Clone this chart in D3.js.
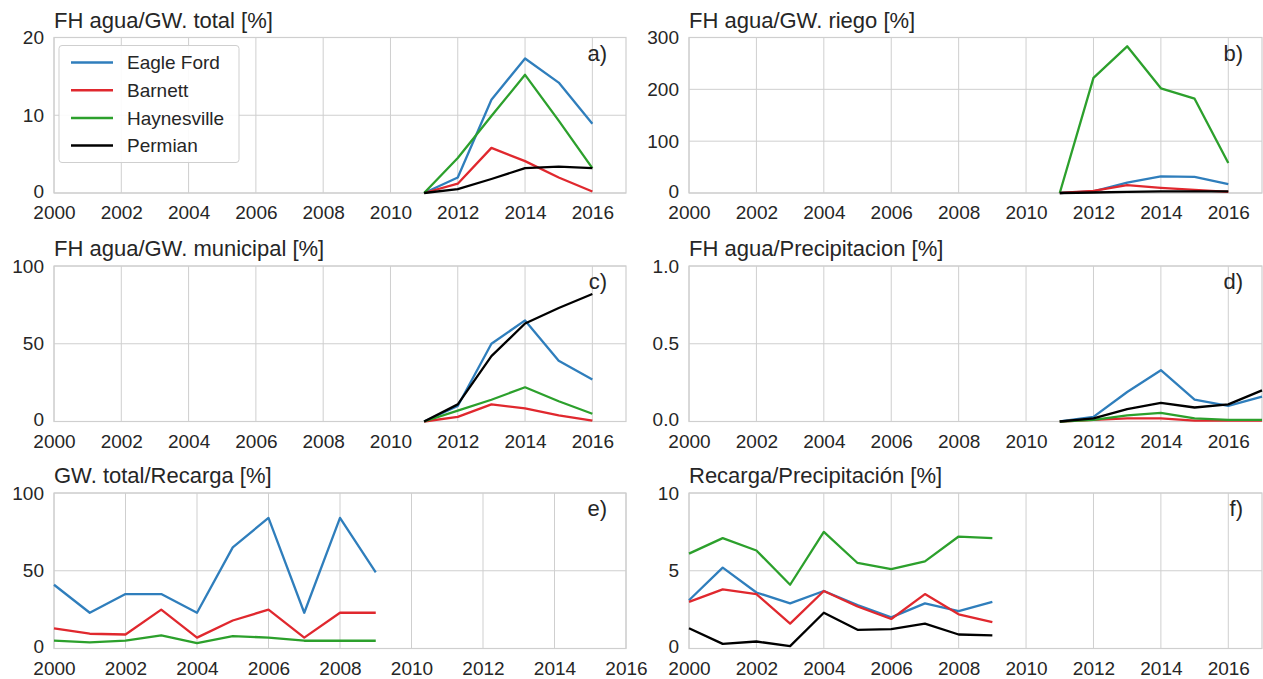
<!DOCTYPE html>
<html>
<head>
<meta charset="utf-8">
<script src="https://cdn.jsdelivr.net/npm/d3@7"></script>
<style>
  body { margin: 0; background: #fff; }
  svg { font-family: "Liberation Sans", Arial, sans-serif; }
</style>
</head>
<body>
<div class="chart"></div>
<script>
// Data

const series = ["Eagle Ford", "Barnett", "Haynesville", "Permian"];
const colors = ["#2f7ebc", "#e0282e", "#2ca02c", "#000000"];

const yearsFH = [2011, 2012, 2013, 2014, 2015, 2016];
const yearsPrec = [2011, 2012, 2013, 2014, 2015, 2016, 2017];
const yearsHist = [2000, 2001, 2002, 2003, 2004, 2005, 2006, 2007, 2008, 2009];

// a) FH agua/GW. total
const totalEagle = [0, 2.0, 12, 17.3, 14.2, 8.9];
const totalBarnett = [0, 1.2, 5.8, 4.1, 2.0, 0.2];
const totalHaynes = [0, 4.5, 9.9, 15.2, 9.3, 3.2];
const totalPermian = [0, 0.5, 1.8, 3.2, 3.4, 3.2];

// b) FH agua/GW. riego
const riegoEagle = [0, 3, 20, 32, 31, 17];
const riegoBarnett = [0, 4, 15, 10, 6, 2];
const riegoHaynes = [0, 222, 283, 202, 182, 58];
const riegoPermian = [0, 1, 2, 3, 3, 3];

// c) FH agua/GW. municipal
const muniEagle = [0, 10, 50, 65, 39, 27];
const muniBarnett = [0, 3, 11, 8.5, 4, 0.5];
const muniHaynes = [0, 7, 14, 22, 13, 5];
const muniPermian = [0, 11, 42, 63, 73, 82];

// d) FH agua/Precipitacion
const precEagle = [0, 0.03, 0.19, 0.33, 0.14, 0.10, 0.16];
const precBarnett = [0, 0.01, 0.02, 0.02, 0.005, 0.005, 0.005];
const precHaynes = [0, 0.01, 0.04, 0.055, 0.02, 0.01, 0.01];
const precPermian = [0, 0.02, 0.08, 0.12, 0.09, 0.11, 0.20];

// e) GW. total/Recarga
const recEagle = [41, 23, 35, 35, 23, 65, 84, 23, 84, 49];
const recBarnett = [13, 9.5, 9, 25, 7, 18, 25, 7, 23, 23];
const recHaynes = [5, 4, 5, 8.5, 3.5, 8, 7, 5, 5, 5];

// f) Recarga/Precipitación
const rpEagle = [3.1, 5.2, 3.6, 2.9, 3.7, 2.8, 2.0, 2.9, 2.4, 3.0];
const rpBarnett = [3.0, 3.8, 3.5, 1.6, 3.7, 2.7, 1.9, 3.5, 2.2, 1.7];
const rpHaynes = [6.1, 7.1, 6.3, 4.1, 7.5, 5.5, 5.1, 5.6, 7.2, 7.1];
const rpPermian = [1.3, 0.3, 0.45, 0.15, 2.3, 1.2, 1.25, 1.6, 0.9, 0.85];

const xTicks = [2000, 2002, 2004, 2006, 2008, 2010, 2012, 2014, 2016];

const panels = [
  {title: "FH agua/GW. total [%]", tag: "a)", col: 0, row: 0, xMax: 2017,
   yMax: 20, yTicks: [0, 10, 20], fmt: d3.format("d"), years: yearsFH,
   lines: [totalEagle, totalBarnett, totalHaynes, totalPermian], legend: true},
  {title: "FH agua/GW. riego [%]", tag: "b)", col: 1, row: 0, xMax: 2017,
   yMax: 300, yTicks: [0, 100, 200, 300], fmt: d3.format("d"), years: yearsFH,
   lines: [riegoEagle, riegoBarnett, riegoHaynes, riegoPermian]},
  {title: "FH agua/GW. municipal [%]", tag: "c)", col: 0, row: 1, xMax: 2017,
   yMax: 100, yTicks: [0, 50, 100], fmt: d3.format("d"), years: yearsFH,
   lines: [muniEagle, muniBarnett, muniHaynes, muniPermian]},
  {title: "FH agua/Precipitacion [%]", tag: "d)", col: 1, row: 1, xMax: 2017,
   yMax: 1, yTicks: [0, 0.5, 1], fmt: d3.format(".1f"), years: yearsPrec,
   lines: [precEagle, precBarnett, precHaynes, precPermian]},
  {title: "GW. total/Recarga [%]", tag: "e)", col: 0, row: 2, xMax: 2016,
   yMax: 100, yTicks: [0, 50, 100], fmt: d3.format("d"), years: yearsHist,
   lines: [recEagle, recBarnett, recHaynes, null]},
  {title: "Recarga/Precipitación [%]", tag: "f)", col: 1, row: 2, xMax: 2017,
   yMax: 10, yTicks: [0, 5, 10], fmt: d3.format("d"), years: yearsHist,
   lines: [rpEagle, rpBarnett, rpHaynes, rpPermian]}
];

// Layout
const colLeft = [54, 689];
const colRight = [626, 1262];
const rowTop = [37.5, 266, 493];
const plotH = 155.5;
const textColor = "#262626";
const gridColor = "#cfcfcf";

const svg = d3.select(".chart").append("svg")
    .attr("width", 1263)
    .attr("height", 679);

panels.forEach(p => {
  const w = colRight[p.col] - colLeft[p.col];
  const g = svg.append("g")
      .attr("transform", `translate(${colLeft[p.col]},${rowTop[p.row]})`);

  const x = d3.scaleLinear().domain([2000, p.xMax]).range([0, w]);
  const y = d3.scaleLinear().domain([0, p.yMax]).range([plotH, 0]);

  // grid
  g.append("g").selectAll("line.vx").data(xTicks.filter(t => t <= p.xMax)).join("line")
      .attr("x1", d => x(d)).attr("x2", d => x(d))
      .attr("y1", 0).attr("y2", plotH)
      .attr("stroke", gridColor).attr("stroke-width", 1);
  g.append("g").selectAll("line.hy").data(p.yTicks).join("line")
      .attr("x1", 0).attr("x2", w)
      .attr("y1", d => y(d)).attr("y2", d => y(d))
      .attr("stroke", gridColor).attr("stroke-width", 1);

  // frame
  g.append("rect")
      .attr("width", w).attr("height", plotH)
      .attr("fill", "none").attr("stroke", gridColor).attr("stroke-width", 1.2);

  // axes
  const xAxis = d3.axisBottom(x).tickValues(xTicks).tickFormat(d3.format("d"))
      .tickSize(0).tickPadding(13);
  const yAxis = d3.axisLeft(y).tickValues(p.yTicks).tickFormat(p.fmt)
      .tickSize(0).tickPadding(10);

  const gx = g.append("g").attr("transform", `translate(0,${plotH})`).call(xAxis);
  const gy = g.append("g").call(yAxis);
  [gx, gy].forEach(a => {
    a.select(".domain").remove();
    a.selectAll("text").attr("fill", textColor).attr("font-size", 19)
        .attr("font-family", "Liberation Sans, Arial, sans-serif");
  });
  // lift the zero label a touch so it clears the year labels
  gy.selectAll("text").filter(d => d === 0).attr("dy", "0.22em");

  // title
  g.append("text")
      .attr("x", 0).attr("y", -10)
      .attr("fill", textColor).attr("font-size", 22)
      .text(p.title);

  // tag
  g.append("text")
      .attr("x", w - 19).attr("y", 23)
      .attr("text-anchor", "end")
      .attr("fill", textColor).attr("font-size", 22)
      .text(p.tag);

  // lines
  const line = d3.line().x(d => x(d[0])).y(d => y(d[1]));
  p.lines.forEach((vals, i) => {
    if (!vals) return;
    g.append("path")
        .datum(p.years.map((yr, j) => [yr, vals[j]]))
        .attr("d", line)
        .attr("fill", "none")
        .attr("stroke", colors[i])
        .attr("stroke-width", 2.3)
        .attr("stroke-linejoin", "round");
  });

  // legend
  if (p.legend) {
    const lg = g.append("g").attr("transform", "translate(5,8)");
    lg.append("rect")
        .attr("width", 180).attr("height", 117).attr("rx", 3)
        .attr("fill", "#fff").attr("fill-opacity", 0.9)
        .attr("stroke", gridColor);
    series.forEach((s, i) => {
      const yy = 17 + i * 27.7;
      lg.append("line")
          .attr("x1", 12).attr("x2", 54).attr("y1", yy).attr("y2", yy)
          .attr("stroke", colors[i]).attr("stroke-width", 2.5);
      lg.append("text")
          .attr("x", 68).attr("y", yy).attr("dy", "0.35em")
          .attr("fill", textColor).attr("font-size", 19)
          .text(s);
    });
  }
});
</script>
</body>
</html>
